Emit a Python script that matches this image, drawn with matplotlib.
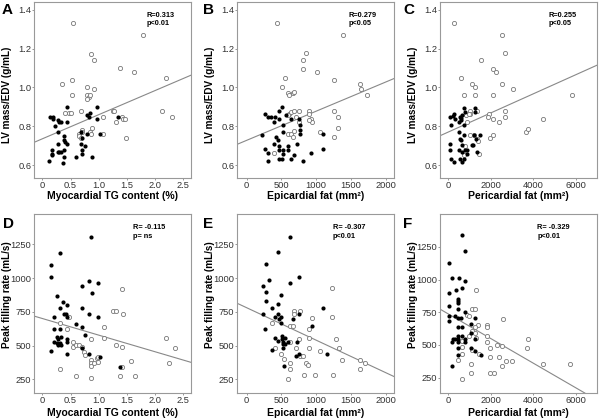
import matplotlib
matplotlib.use("Agg")
import matplotlib.pyplot as plt

plt.rcParams['font.family'] = ['Liberation Sans', 'DejaVu Sans']

# ---- panel A: myocardial TG vs LV mass/EDV ----
a_fill_x = [0.13, 0.18, 0.18, 0.23, 0.17, 0.17, 0.17, 0.12, 0.28, 0.30, 0.33, 0.27, 0.28, 0.27,
            0.30, 0.33, 0.38, 0.38, 0.40, 0.38, 0.43, 0.38, 0.37, 0.44, 0.44, 0.59, 0.68, 0.70,
            0.68, 0.70, 0.70, 0.75, 0.80, 0.82, 0.85, 0.80, 0.88, 0.97, 0.97, 1.03, 1.35]
a_fill_y = [0.85, 0.85, 0.84, 0.80, 0.68, 0.66, 0.65, 0.62, 0.83, 0.82, 0.82, 0.77, 0.71, 0.67,
            0.67, 0.67, 0.75, 0.73, 0.72, 0.68, 0.71, 0.64, 0.61, 0.90, 0.82, 0.64, 0.77, 0.74,
            0.71, 0.68, 0.66, 0.70, 0.86, 0.85, 0.87, 0.76, 0.64, 0.90, 0.84, 0.76, 0.85]
a_open_x = [0.34, 0.55, 0.52, 0.53, 0.47, 0.50, 0.40, 0.68, 0.65, 0.65, 0.68, 0.70, 0.70, 0.80,
            0.80, 0.82, 0.85, 0.80, 0.87, 0.92, 0.92, 0.88, 0.85, 0.87, 1.08, 1.08, 1.25, 1.28,
            1.30, 1.37, 1.42, 1.43, 1.47, 1.48, 1.62, 1.78, 2.13, 2.20, 2.30]
a_open_y = [1.02, 1.33, 1.04, 0.96, 0.87, 0.87, 0.87, 0.88, 0.76, 0.75, 0.74, 0.78, 0.77, 1.00,
            0.96, 0.95, 0.96, 0.94, 1.17, 1.14, 0.99, 0.79, 0.77, 0.76, 0.85, 0.76, 0.88, 0.88,
            0.82, 1.10, 0.85, 0.84, 0.84, 0.74, 1.08, 1.27, 0.88, 1.05, 0.85]

# ---- panel B: epicardial fat vs LV mass/EDV ----
b_fill_x = [221, 259, 306, 306, 259, 306, 353, 400, 386, 386, 424, 447, 471, 504, 471, 471, 471,
            471, 504, 518, 518, 518, 518, 565, 588, 588, 635, 635, 682, 720, 753, 767, 767, 767,
            809, 932, 1092, 1092]
b_fill_y = [0.757, 0.682, 0.665, 0.62, 0.865, 0.85, 0.85, 0.85, 0.82, 0.71, 0.745, 0.728, 0.88,
            0.90, 0.84, 0.70, 0.677, 0.634, 0.634, 0.805, 0.77, 0.677, 0.66, 0.856, 0.70, 0.677,
            0.836, 0.634, 0.65, 0.71, 0.84, 0.805, 0.76, 0.78, 0.62, 0.665, 0.76, 0.685]
b_open_x = [433, 555, 508, 588, 659, 612, 682, 809, 847, 809, 1012, 1388, 1261, 1637, 1647, 1732,
            1261, 1308, 1308, 1261, 1059, 894, 894, 932, 941, 894, 602, 635, 682, 588, 753, 588,
            635, 669, 682, 386, 706, 753]
b_open_y = [1.33, 1.05, 1.005, 0.97, 0.97, 0.96, 0.976, 1.14, 1.175, 1.096, 1.082, 1.27, 1.04,
            1.02, 0.99, 0.96, 0.88, 0.85, 0.79, 0.745, 0.77, 0.88, 0.865, 0.836, 0.82, 0.83,
            0.865, 0.873, 0.88, 0.856, 0.88, 0.76, 0.76, 0.745, 0.775, 0.665, 0.85, 0.82]

# ---- panel C: pericardial fat vs LV mass/EDV ----
c_fill_x = [62, 125, 62, 94, 125, 281, 219, 281, 328, 484, 484, 531, 594, 641, 719, 594, 594, 719,
            719, 797, 641, 531, 531, 641, 719, 641, 797, 875, 875, 1109, 1156, 1219, 1266, 1266,
            1313, 1344, 1500, 484]
c_fill_y = [0.848, 0.805, 0.711, 0.677, 0.634, 0.617, 0.853, 0.865, 0.84, 0.677, 0.77, 0.737,
            0.728, 0.706, 0.754, 0.83, 0.843, 0.805, 0.894, 0.873, 0.856, 0.848, 0.634, 0.617,
            0.634, 0.668, 0.677, 0.677, 0.66, 0.702, 0.706, 0.754, 0.894, 0.873, 0.737, 0.668,
            0.754, 0.822]
c_open_x = [594, 250, 719, 1109, 1266, 1266, 1547, 2094, 2250, 2516, 2672, 2516, 2094, 3063, 1031,
            1031, 1344, 1891, 1844, 2094, 2359, 2672, 2672, 1938, 2094, 3656, 3766, 4469, 5828,
            875, 1031, 1188, 1344, 1375, 1422, 844, 953, 719, 797]
c_open_y = [1.05, 1.33, 0.96, 1.02, 1.005, 0.96, 1.14, 1.096, 1.082, 1.27, 1.175, 1.02, 0.96,
            0.99, 0.88, 0.865, 0.88, 0.865, 0.848, 0.836, 0.82, 0.88, 0.848, 0.74, 0.754, 0.77,
            0.788, 0.836, 0.96, 0.822, 0.754, 0.754, 0.737, 0.725, 0.66, 0.856, 0.865, 0.651, 0.70]

# ---- panel D: myocardial TG vs peak filling rate ----
d_fill_x = [0.15, 0.15, 0.32, 0.86, 0.26, 0.37, 0.32, 0.43, 0.38, 0.42, 0.44, 0.21, 0.71, 0.82,
            0.98, 0.88, 0.70, 0.82, 0.98, 0.60, 0.71, 0.21, 0.32, 0.21, 0.26, 0.32, 0.27, 0.28,
            0.33, 0.33, 0.44, 0.44, 0.15, 0.44, 0.76, 0.71, 0.82, 1.03, 1.37, 0.26]
d_fill_y = [1097, 1006, 1188, 1307, 867, 825, 776, 801, 734, 734, 714, 709, 941, 981, 961, 892,
            776, 731, 709, 662, 640, 620, 620, 529, 522, 522, 546, 504, 504, 566, 546, 529, 458,
            438, 578, 480, 438, 415, 344, 561]
d_open_x = [0.32, 0.48, 0.44, 0.32, 0.60, 0.54, 0.55, 0.60, 0.65, 0.71, 0.74, 0.76, 0.86, 0.86,
            0.86, 0.86, 0.92, 0.97, 0.98, 0.99, 0.86, 1.09, 1.09, 1.25, 1.31, 1.31, 1.42, 1.43,
            1.42, 1.42, 1.37, 1.58, 1.64, 2.19, 2.25, 2.35]
d_open_y = [665, 709, 620, 324, 277, 524, 487, 504, 504, 492, 455, 430, 549, 393, 373, 349, 368,
            405, 381, 418, 257, 640, 554, 759, 759, 504, 487, 734, 919, 344, 277, 388, 277, 554,
            368, 485]

# ---- panel E: epicardial fat vs peak filling rate ----
e_fill_x = [621, 456, 273, 315, 235, 273, 273, 259, 235, 367, 456, 494, 621, 753, 414, 456, 494,
            494, 471, 668, 753, 414, 456, 508, 508, 518, 518, 555, 555, 588, 518, 367, 541, 715,
            753, 720, 941, 1092, 1150]
e_fill_y = [1307, 1193, 1102, 986, 941, 897, 830, 625, 736, 781, 806, 872, 966, 1010, 714, 731,
            714, 670, 694, 694, 736, 554, 534, 571, 546, 509, 484, 554, 509, 526, 526, 465, 349,
            423, 440, 529, 645, 781, 440]
e_open_x = [367, 414, 494, 541, 588, 621, 621, 621, 621, 668, 682, 682, 762, 753, 706, 762, 809,
            824, 847, 885, 894, 894, 894, 941, 979, 1059, 1233, 1233, 1247, 1280, 1327, 1365,
            1624, 1624, 1708]
e_open_y = [670, 484, 435, 398, 255, 645, 526, 324, 370, 645, 756, 731, 756, 546, 484, 423, 423,
            279, 373, 356, 625, 559, 484, 707, 282, 460, 714, 924, 282, 551, 484, 393, 393, 324,
            373]

# ---- panel F: pericardial fat vs peak filling rate ----
f_fill_x = [630, 787, 31, 189, 504, 787, 346, 630, 31, 472, 472, 472, 31, 472, 756, 31, 315, 31,
            472, 598, 1228, 472, 630, 1071, 236, 315, 441, 189, 472, 630, 472, 756, 472, 472, 1071,
            1071, 1260, 1260, 1512, 189, 787]
f_fill_y = [1340, 1219, 1129, 1009, 1009, 988, 917, 937, 894, 853, 835, 822, 796, 776, 750, 724,
            724, 681, 704, 704, 706, 637, 637, 660, 547, 547, 547, 522, 565, 565, 519, 519, 476,
            424, 591, 476, 545, 450, 424, 335, 545]
f_open_x = [1291, 866, 976, 1102, 1260, 1386, 1228, 1811, 1811, 2567, 945, 1102, 1228, 1307, 1811,
            1811, 630, 630, 630, 472, 1102, 1417, 1969, 2283, 2520, 1969, 2362, 1071, 1071, 630,
            1969, 2126, 2520, 2724, 2992, 3732, 3701, 4441, 5748]
f_open_y = [917, 732, 724, 776, 776, 655, 635, 655, 637, 701, 571, 604, 591, 553, 571, 519, 527,
            481, 432, 381, 463, 430, 476, 496, 494, 404, 404, 353, 283, 237, 283, 283, 335, 378,
            378, 545, 476, 355, 355]

# regression lines (intercept, slope)
line_int = [0.736, 0.728, 0.771, 700, 780, 736]
line_slope = [0.124, 1.50e-4, 4.91e-5, -123, -0.2405, -0.094]

stats = [("R=0.313", "p<0.01"), ("R=0.279", "p<0.05"), ("R=0.255", "p<0.05"),
         ("R= -0.115", "p= ns"), ("R= -0.307", "p<0.01"), ("R= -0.329", "p<0.01")]
letters = ["A", "B", "C", "D", "E", "F"]
xlabels = ["Myocardial TG content (%)", "Epicardial fat (mm²)", "Pericardial fat (mm²)"] * 2
ylabels = ["LV mass/EDV (g/mL)"] * 3 + ["Peak filling rate (mL/s)"] * 3

fills = [(a_fill_x, a_fill_y), (b_fill_x, b_fill_y), (c_fill_x, c_fill_y),
         (d_fill_x, d_fill_y), (e_fill_x, e_fill_y), (f_fill_x, f_fill_y)]
opens = [(a_open_x, a_open_y), (b_open_x, b_open_y), (c_open_x, c_open_y),
         (d_open_x, d_open_y), (e_open_x, e_open_y), (f_open_x, f_open_y)]

xlims = [(-0.15, 2.64), (-140, 2120), (-400, 7000)] * 2
ylims = [(0.534, 1.44), (0.534, 1.44), (0.534, 1.44), (148, 1474), (148, 1474), (132, 1500)]
xticks = [[0, 0.5, 1.0, 1.5, 2.0, 2.5], [0, 500, 1000, 1500, 2000], [0, 2000, 4000, 6000]] * 2
xticklabels = [["0", "0.5", "1.0", "1.5", "2.0", "2.5"], ["0", "500", "1000", "1500", "2000"],
               ["0", "2000", "4000", "6000"]] * 2
yticks = [[0.6, 0.8, 1.0, 1.2, 1.4]] * 3 + [[250, 500, 750, 1000, 1250]] * 3
yticklabels = [["0.6", "0.8", "1.0", "1.2", "1.4"]] * 3 + [["250", "500", "750", "1000", "1250"]] * 3
stat_x = [0.715, 0.71, 0.69, 0.63, 0.61, 0.62]

fig = plt.figure(figsize=(6, 4.19), dpi=100)
lefts = [0.0567, 0.395, 0.7333]
for i in range(6):
    row, col = divmod(i, 3)
    if row == 0:
        ax = fig.add_axes([lefts[col], 0.5752, 0.2617, 0.420])
    else:
        ax = fig.add_axes([lefts[col], 0.062, 0.2617, 0.427])
    ax.set_xlim(*xlims[i])
    ax.set_ylim(*ylims[i])
    ax.axline((0, line_int[i]), slope=line_slope[i], color="#888888", lw=0.8, zorder=1)
    ax.scatter(opens[i][0], opens[i][1], s=9, facecolors="white", edgecolors="#777777",
               linewidths=0.6, zorder=2)
    ax.scatter(fills[i][0], fills[i][1], s=9, color="black", linewidths=0, zorder=3)
    ax.set_xticks(xticks[i])
    ax.set_xticklabels(xticklabels[i])
    ax.set_yticks(yticks[i])
    ax.set_yticklabels(yticklabels[i])
    ax.tick_params(labelsize=6.7, colors="#888888", labelcolor="#333333", length=1.3, width=0.6,
                   pad=0.6)
    for sp in ax.spines.values():
        sp.set_color("#999999")
        sp.set_linewidth(0.8)
    ax.set_xlabel(xlabels[i], fontsize=7.5, fontweight="bold", va="center")
    ax.set_ylabel(ylabels[i], fontsize=7.2, fontweight="bold", va="center")
    if row == 0:
        ax.xaxis.set_label_coords(0.5, -0.1)
        ax.yaxis.set_label_coords(-0.172, 0.47)
    else:
        ax.xaxis.set_label_coords(0.5, -0.112)
        ax.yaxis.set_label_coords(-0.172, 0.55)
    ax.text(stat_x[i], 0.945, stats[i][0] + "\n" + stats[i][1], transform=ax.transAxes,
            fontsize=5.3, fontweight="bold", va="top", ha="left", linespacing=1.35)

letter_pos = [(0.003, 0.993), (0.338, 0.993), (0.672, 0.993),
              (0.005, 0.482), (0.338, 0.482), (0.672, 0.482)]
for (lx, ly), lt in zip(letter_pos, letters):
    fig.text(lx, ly, lt, fontsize=11, fontweight="bold", va="top", ha="left")

fig.savefig("out.png", dpi=100)
